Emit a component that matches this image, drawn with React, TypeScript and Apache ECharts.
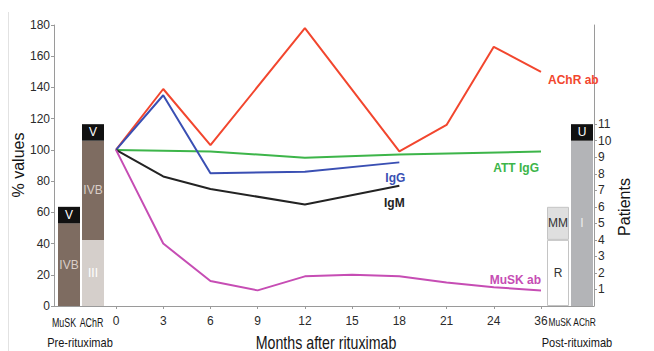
import React, { useEffect, useRef } from "react";
import * as echarts from "echarts";

const months = ["0", "3", "6", "9", "12", "15", "18", "21", "24", "36"];
const achrAb = [100, 139, 103, null, 178, null, 99, 116, 166, 150];
const igG = [100, 135, 85, null, 86, null, 92];
const attIgG = [100, null, 99, null, 95, null, 97, null, null, 99];
const igM = [100, 83, 75, null, 65, null, 77];
const muskAb = [100, 40, 16, 10, 19, 20, 19, 15, 12, 10];

const percentTicks = { min: 0, max: 180, interval: 20 };
const patientTicks = [1, 2, 3, 4, 5, 6, 7, 8, 9, 10, 11];

const barCats = ["MuSK", "AChR"];
const preIII = [null, 4];
const preIVB = [5, 6];
const preV = [1, 1];
const postR = [4, null];
const postMM = [2, null];
const postI = [null, 10];
const postU = [null, 1];

const FONT = "'Liberation Sans', Arial, sans-serif";

export default function App() {
  const ref = useRef<HTMLDivElement>(null);
  useEffect(() => {
    if (!ref.current) return;
    const chart = echarts.init(ref.current, undefined, { renderer: "svg" });
    const top = 25;
    const height = 281;
    const axisGray = "#9a9a9a";
    const txt = "#2a2a2a";

    const lineSeries = (
      name: string,
      data: (number | null)[],
      color: string,
      align: string,
      offset: number[]
    ) => ({
      type: "line",
      name,
      data,
      xAxisIndex: 1,
      yAxisIndex: 2,
      symbol: "none",
      connectNulls: true,
      lineStyle: { color, width: 2 },
      itemStyle: { color },
      endLabel: {
        show: true,
        formatter: () => name,
        color,
        fontFamily: FONT,
        fontWeight: "bold",
        fontSize: 12,
        distance: 0,
        align,
        verticalAlign: "middle",
        offset,
      },
    });

    const barSeries = (
      stack: string,
      xi: number,
      yi: number,
      data: (number | null)[],
      color: string,
      text: string,
      textColor: string,
      border?: string
    ) => ({
      type: "bar",
      stack,
      xAxisIndex: xi,
      yAxisIndex: yi,
      data,
      barWidth: 22,
      itemStyle: border
        ? { color, borderColor: border, borderWidth: 1 }
        : { color },
      label: {
        show: true,
        position: "inside",
        formatter: () => text,
        color: textColor,
        fontFamily: FONT,
        fontSize: 12,
      },
    });

    const hiddenY = (gridIndex: number, max: number) => ({
      type: "value",
      gridIndex,
      min: 0,
      max,
      show: false,
    });

    const label = (
      text: string,
      x: number,
      y: number,
      size: number,
      sx: number,
      rot = 0
    ) => ({
      type: "text",
      x,
      y,
      scaleX: sx,
      rotation: rot,
      style: {
        text,
        fill: "#151515",
        font: `${size}px ${FONT}`,
        textAlign: "center",
        textVerticalAlign: "middle",
      },
    });

    chart.setOption({
      animation: false,
      backgroundColor: "#ffffff",
      grid: [
        { left: 54, top, width: 540, height },
        { left: 116, top, width: 425, height },
        { left: 57, top, width: 48, height },
        { left: 546, top, width: 48, height },
      ],
      xAxis: [
        {
          type: "value",
          gridIndex: 0,
          min: 0,
          max: 1,
          axisLine: { show: true, lineStyle: { color: axisGray, width: 1 } },
          axisTick: { show: false },
          axisLabel: { show: false },
          splitLine: { show: false },
        },
        {
          type: "category",
          gridIndex: 1,
          data: months,
          boundaryGap: false,
          axisLine: { show: false },
          axisTick: { show: true, length: 3, lineStyle: { color: axisGray } },
          axisLabel: { color: txt, fontFamily: FONT, fontSize: 12, margin: 9 },
          splitLine: { show: false },
        },
        {
          type: "category",
          gridIndex: 2,
          data: barCats,
          axisLine: { show: false },
          axisTick: { show: false },
          axisLabel: { show: false },
        },
        {
          type: "category",
          gridIndex: 3,
          data: barCats,
          axisLine: { show: false },
          axisTick: { show: false },
          axisLabel: { show: false },
        },
      ],
      yAxis: [
        {
          type: "value",
          gridIndex: 0,
          position: "left",
          min: percentTicks.min,
          max: percentTicks.max,
          interval: percentTicks.interval,
          axisLine: { show: true, lineStyle: { color: axisGray } },
          axisTick: { show: true, length: 3, lineStyle: { color: axisGray } },
          axisLabel: { color: txt, fontFamily: FONT, fontSize: 12, margin: 4 },
          splitLine: { show: false },
        },
        {
          type: "value",
          gridIndex: 0,
          position: "right",
          min: 0,
          max: 17,
          interval: 1,
          axisLine: { show: true, lineStyle: { color: axisGray } },
          axisTick: {
            show: true,
            length: 3,
            lineStyle: { color: axisGray },
            customValues: patientTicks,
          },
          axisLabel: {
            color: txt,
            fontFamily: FONT,
            fontSize: 12,
            margin: 4,
            customValues: patientTicks,
          },
          splitLine: { show: false },
        },
        hiddenY(1, percentTicks.max),
        hiddenY(2, 17),
        hiddenY(3, 17),
      ],
      series: [
        lineSeries("AChR ab", achrAb, "#f2462e", "left", [7, 8]),
        lineSeries("ATT IgG", attIgG, "#3db54a", "right", [-2, 17]),
        lineSeries("IgG", igG, "#3a4fb3", "center", [-4, 16]),
        lineSeries("IgM", igM, "#232323", "center", [-5, 17]),
        lineSeries("MuSK ab", muskAb, "#c64db4", "right", [0, -10]),
        barSeries("pre", 2, 3, preIII, "#d5cfcb", "III", "#ffffff"),
        barSeries("pre", 2, 3, preIVB, "#7e6c61", "IVB", "#d9cec8"),
        barSeries("pre", 2, 3, preV, "#111111", "V", "#ffffff"),
        barSeries("post", 3, 4, postR, "#ffffff", "R", "#333333", "#c4c4c4"),
        barSeries("post", 3, 4, postMM, "#dfdfdf", "MM", "#333333", "#c4c4c4"),
        barSeries("post", 3, 4, postI, "#b3b4b7", "I", "#ececec"),
        barSeries("post", 3, 4, postU, "#111111", "U", "#ffffff"),
      ],
      graphic: [
        {
          type: "line",
          shape: { x1: 8.5, y1: 12, x2: 8.5, y2: 351 },
          style: { stroke: "#e2e2e2", lineWidth: 1 },
        },
        label("% values", 18, 165, 16, 1, Math.PI / 2),
        label("Patients", 624, 207, 16, 1, Math.PI / 2),
        label("Months after rituximab", 326, 342, 18, 0.79),
        label("Pre-rituximab", 80, 343, 13, 0.85),
        label("Post-rituximab", 577, 343, 13, 0.85),
        label(barCats[0], 64, 322, 12, 0.74),
        label(barCats[1], 91.5, 322, 12, 0.74),
        label(barCats[0], 560, 322, 10.5, 0.8),
        label(barCats[1], 584.5, 322, 10.5, 0.8),
      ],
    });
    return () => chart.dispose();
  }, []);
  return (
    <div
      ref={ref}
      style={{ position: "fixed", left: 0, top: 0, width: 654, height: 351 }}
    />
  );
}
